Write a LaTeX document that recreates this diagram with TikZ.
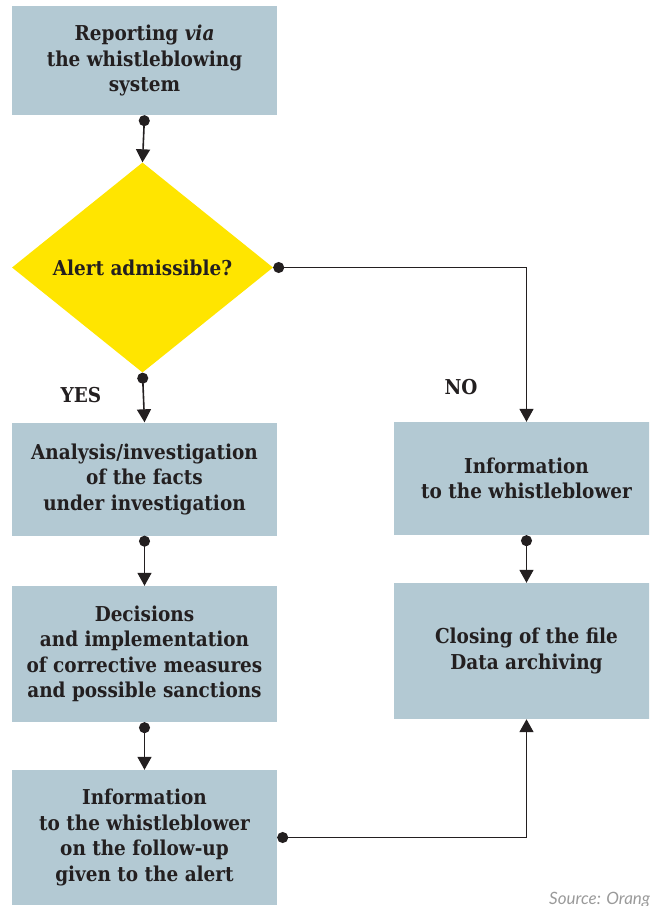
\documentclass[tikz,border=0pt]{standalone}
\usepackage{fontspec}
\setmainfont{DejaVu Serif Condensed}
\newfontfamily\srcfont{Lato}
\usetikzlibrary{arrows.meta,shapes.geometric}
\definecolor{boxblue}{HTML}{B3C9D3}
\definecolor{alertyellow}{HTML}{FFE500}
\definecolor{ink}{HTML}{231F20}
\definecolor{srcgray}{HTML}{9A9A9A}
\tikzset{
  x=1pt, y=-1pt,
  box/.style={fill=boxblue, draw=none, inner sep=0pt, minimum width=265pt,
    align=center, text=ink, font=\bfseries\fontsize{20.5}{25.5}\selectfont},
  decision/.style={diamond, fill=alertyellow, draw=none, inner sep=0pt,
    aspect=1.25, minimum width=261pt, minimum height=210pt,
    text=ink, font=\bfseries\fontsize{20.5}{25.5}\selectfont},
  flow/.style={draw=ink, line width=1.6pt,
    {Circle[length=11pt]}-{Triangle[length=13pt,width=14pt]}},
  lbl/.style={text=ink, font=\bfseries\fontsize{20.5}{22}\selectfont},
}
\begin{document}
\begin{tikzpicture}
\useasboundingbox (0,0) rectangle (649,906);
\clip (0,0) rectangle (649,906);
\node[box, minimum height=109pt] (report) at (144.5,60.5)
  {Reporting \textit{via}\\the whistleblowing\\system};
\node[decision] (alert) at (142.5,267.5) {Alert admissible?};
\node[box, minimum height=113pt] (analysis) at (144.5,479)
  {Analysis/investigation\\of the facts\\under investigation};
\node[box, minimum height=136pt] (decisions) at (144.5,654)
  {Decisions\\and implementation\\of corrective measures\\and possible sanctions};
\node[box, minimum height=135pt] (followup) at (144.5,837.5)
  {Information\\to the whistleblower\\on the follow-up\\given to the alert};
\node[box, minimum height=113pt] (inform) at (526.5,478.5)
  {Information\\to the whistleblower};
\node[box, minimum height=136pt] (closing) at (526.5,651)
  {Closing of the file\\Data archiving};
\node[lbl] (yes) at (81,395) {YES};
\node[lbl] (no) at (461,387) {NO};
\node[text=srcgray, font=\srcfont\itshape\fontsize{17}{19}\selectfont, anchor=base west, inner sep=0pt]
  (source) at (549,904) {Source: Orange};
\draw[flow] (report.south) -- (alert.north);
\draw[flow] (alert.south) -- (analysis.north);
\draw[flow] (alert.east) -| (inform.north);
\draw[flow] (analysis.south) -- (decisions.north);
\draw[flow] (decisions.south) -- (followup.north);
\draw[flow] (inform.south) -- (closing.north);
\draw[flow] (followup.east) -| (closing.south);
\end{tikzpicture}
\end{document}
